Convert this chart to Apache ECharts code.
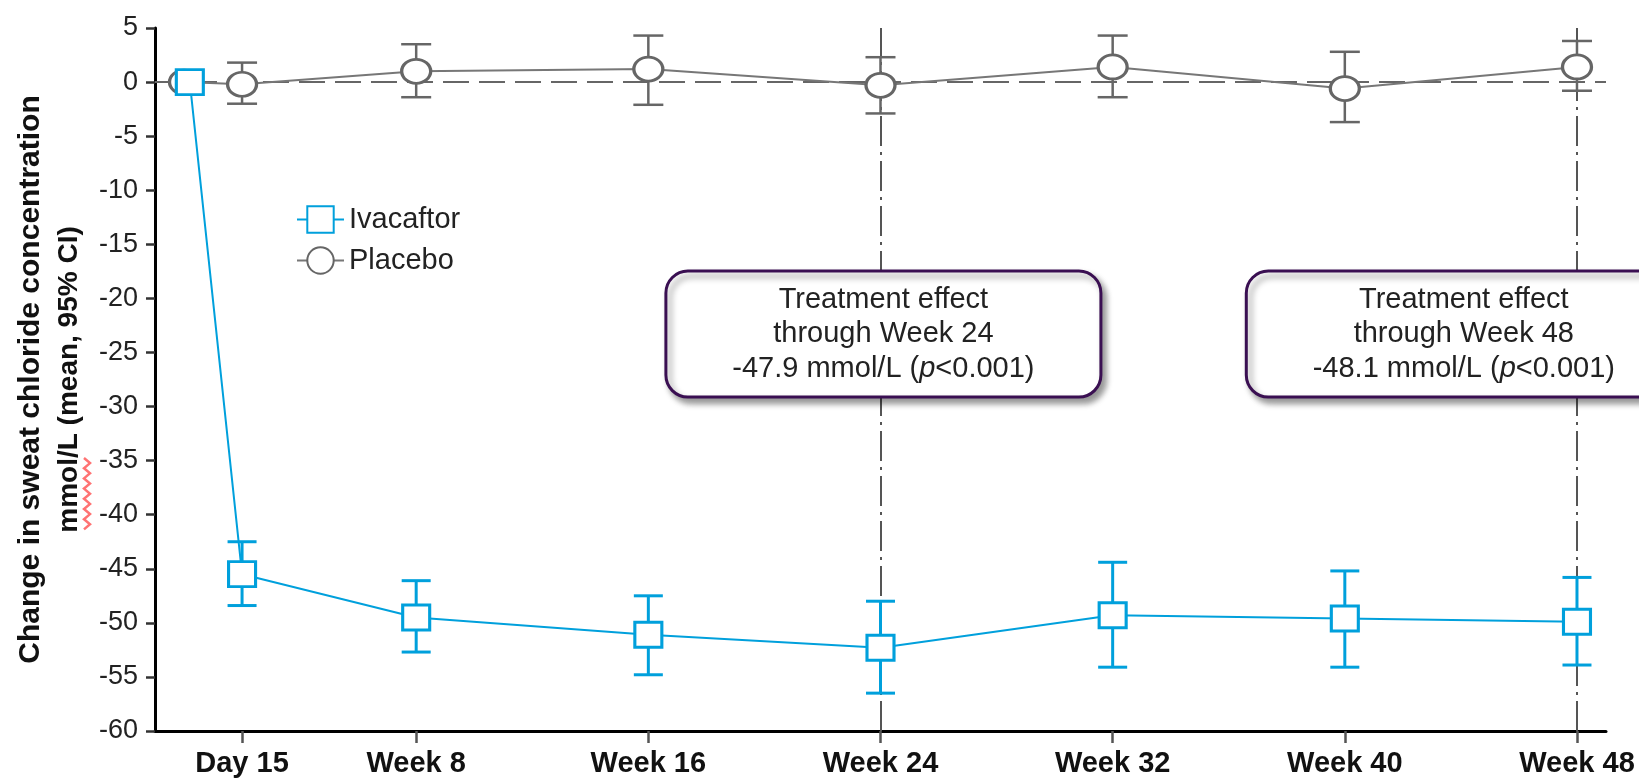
<!DOCTYPE html>
<html>
<head>
<meta charset="utf-8">
<title>Sweat chloride change</title>
<script src="https://cdn.jsdelivr.net/npm/echarts@6/dist/echarts.min.js"></script>
<style>
  html, body { margin: 0; padding: 0; background: #fff; }
  #chart { width: 1639px; height: 779px; }
</style>
</head>
<body>
<div id="chart"></div>
<script>
// Visit schedule (weeks since baseline) and axis labels
const tickWeeks = [2, 8, 16, 24, 32, 40, 48];
const tickLabels = ['Day 15', 'Week 8', 'Week 16', 'Week 24', 'Week 32', 'Week 40', 'Week 48'];

// Ivacaftor: mean change and 95% CI (mmol/L)
const ivaWeeks = [0.2, 2, 8, 16, 24, 32, 40, 48];
const ivaMean  = [0, -45.5, -49.5, -51.1, -52.3, -49.3, -49.6, -49.9];
const ivaLower = [null, -48.4, -52.7, -54.8, -56.5, -54.1, -54.1, -53.9];
const ivaUpper = [null, -42.5, -46.1, -47.5, -48.0, -44.4, -45.2, -45.8];

// Placebo: mean change and 95% CI (mmol/L)
const plaWeeks = [0, 2, 8, 16, 24, 32, 40, 48];
const plaMean  = [0, -0.2, 1.0, 1.2, -0.3, 1.4, -0.6, 1.4];
const plaLower = [null, -2.0, -1.4, -2.1, -2.9, -1.4, -3.7, -0.8];
const plaUpper = [null, 1.8, 3.5, 4.3, 2.3, 4.3, 2.8, 3.8];

// Treatment-effect call-outs
const effectWeekLabel = [24, 48];
const effectValue = [-47.9, -48.1];
const effectBoxWeek = [24.1, 44.1];
const effectBoxLevel = [-23.3, -23.3];

const FONT = '"Liberation Sans", Arial, Helvetica, sans-serif';
const BLUE = '#00a0dc';
const GREY = '#666666';

const pairs = (xs, ys) => xs.map((x, i) => [x, ys[i]]);
const ciRows = (xs, lo, hi) => xs.map((x, i) => [x, lo[i], hi[i]]).filter(r => r[1] != null);

function errorBars(color, capWidth, lineWidth) {
  return function (params, api) {
    const top = api.coord([api.value(0), api.value(2)]);
    const bot = api.coord([api.value(0), api.value(1)]);
    const half = capWidth / 2;
    const st = { stroke: color, lineWidth: lineWidth };
    return {
      type: 'group',
      children: [
        { type: 'line', shape: { x1: top[0], y1: top[1], x2: bot[0], y2: bot[1] }, style: st },
        { type: 'line', shape: { x1: top[0] - half, y1: top[1], x2: top[0] + half, y2: top[1] }, style: st },
        { type: 'line', shape: { x1: bot[0] - half, y1: bot[1], x2: bot[0] + half, y2: bot[1] }, style: st }
      ]
    };
  };
}

function effectBox(params, api) {
  const i = api.value(2);
  const c = api.coord([api.value(0), api.value(1)]);
  const w = 435, h = 126;
  const txt = '{t|Treatment effect}\n{t|through Week ' + effectWeekLabel[i] + '}\n' +
              '{t|' + effectValue[i].toFixed(1) + ' mmol/L (}{i|p}{t|<0.001)}';
  const base = { fontSize: 29, fontFamily: FONT, lineHeight: 34.5, fill: '#222' };
  return {
    type: 'group',
    children: [
      {
        type: 'rect',
        shape: { x: c[0] - w / 2, y: c[1] - h / 2, width: w, height: h, r: 22 },
        style: {
          fill: '#fff', stroke: '#3a0f52', lineWidth: 3,
          shadowBlur: 6, shadowOffsetX: 4, shadowOffsetY: 5, shadowColor: 'rgba(0,0,0,0.4)'
        }
      },
      {
        type: 'text',
        x: c[0], y: c[1],
        style: {
          text: txt, align: 'center', verticalAlign: 'middle',
          rich: { t: base, i: Object.assign({}, base, { fontStyle: 'italic' }) }
        }
      }
    ]
  };
}

// Wavy proofing underline beside the unit in the axis title
const squiggle = [];
for (let k = 0; k <= 14; k++) {
  squiggle.push([k % 2 === 0 ? 84 : 90, 458 + k * 5.1]);
}

const chart = echarts.init(document.getElementById('chart'));
chart.setOption({
  animation: false,
  backgroundColor: '#fff',
  textStyle: { fontFamily: FONT },
  grid: { left: 155, right: 33, top: 28, bottom: 48 },
  legend: {
    data: ['Ivacaftor', 'Placebo'],
    orient: 'vertical',
    left: 296, top: 205, padding: 0,
    itemWidth: 47, itemHeight: 33, itemGap: 12,
    selectedMode: false,
    textStyle: { fontSize: 29, color: '#222', fontFamily: FONT }
  },
  graphic: [
    {
      type: 'polyline', silent: true, z: 20,
      shape: { points: squiggle },
      style: { stroke: '#ff7373', lineWidth: 2.5, fill: null }
    }
  ],
  xAxis: {
    type: 'value', min: -1, max: 49,
    axisLine: { onZero: false, lineStyle: { color: '#000', width: 3 } },
    axisTick: { show: true, customValues: tickWeeks, length: 12, lineStyle: { color: '#555', width: 2.5 } },
    axisLabel: {
      customValues: tickWeeks,
      formatter: v => tickLabels[tickWeeks.indexOf(v)],
      margin: 18, fontSize: 29, fontWeight: 'bold', color: '#111', fontFamily: FONT
    },
    splitLine: { show: false }
  },
  yAxis: {
    type: 'value', min: -60, max: 5, interval: 5,
    axisLine: { show: true, onZero: false, lineStyle: { color: '#000', width: 3 } },
    axisTick: { show: true, length: 9, lineStyle: { color: '#333', width: 2.5 } },
    axisLabel: { margin: 17, fontSize: 27, color: '#222', fontFamily: FONT },
    splitLine: { show: false },
    name: '{a|Change in sweat chloride concentration}\n{b|mmol/L (mean, 95% CI)}',
    nameLocation: 'middle', nameRotate: 90, nameGap: 67,
    nameTextStyle: {
      rich: {
        a: { fontSize: 30, fontWeight: 'bold', color: '#111', fontFamily: FONT, lineHeight: 38 },
        b: { fontSize: 28, fontWeight: 'bold', color: '#111', fontFamily: FONT, lineHeight: 38 }
      }
    }
  },
  series: [
    {
      name: 'reference lines', type: 'line', data: [], z: 1, silent: true,
      markLine: {
        z: 1, silent: true, symbol: 'none', label: { show: false },
        emphasis: { disabled: true },
        data: [
          { yAxis: 0, lineStyle: { type: [26, 10], color: GREY, width: 2 } },
          { xAxis: 24, lineStyle: { type: [30, 6, 3, 6], color: '#555', width: 2 } },
          { xAxis: 48, lineStyle: { type: [30, 6, 3, 6], color: '#555', width: 2 } }
        ]
      }
    },
    {
      name: 'Placebo CI', type: 'custom', z: 2, silent: true,
      renderItem: errorBars(GREY, 30, 2.5),
      encode: { x: 0, y: [1, 2] },
      data: ciRows(plaWeeks, plaLower, plaUpper)
    },
    {
      name: 'Ivacaftor CI', type: 'custom', z: 2, silent: true,
      renderItem: errorBars(BLUE, 29, 3),
      encode: { x: 0, y: [1, 2] },
      data: ciRows(ivaWeeks, ivaLower, ivaUpper)
    },
    {
      name: 'Placebo', type: 'line', z: 3,
      data: pairs(plaWeeks, plaMean),
      symbol: 'circle', symbolSize: [29, 24],
      itemStyle: { color: '#fff', borderColor: GREY, borderWidth: 3 },
      lineStyle: { color: '#777', width: 2 },
      emphasis: { disabled: true }
    },
    {
      name: 'Ivacaftor', type: 'line', z: 4,
      data: pairs(ivaWeeks, ivaMean),
      symbol: 'rect', symbolSize: [27, 25],
      itemStyle: { color: '#fff', borderColor: BLUE, borderWidth: 3 },
      lineStyle: { color: BLUE, width: 2 },
      emphasis: { disabled: true }
    },
    {
      name: 'Treatment effect', type: 'custom', z: 10, silent: true, clip: false,
      renderItem: effectBox,
      encode: { x: 0, y: 1 },
      data: effectBoxWeek.map((w, i) => [w, effectBoxLevel[i], i])
    }
  ]
});
</script>
</body>
</html>
